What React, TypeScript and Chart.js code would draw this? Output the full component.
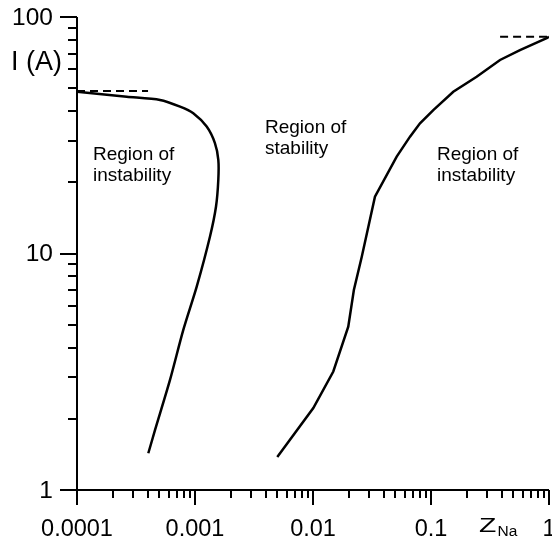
import React, { useEffect, useRef } from "react";
import { Chart, registerables } from "chart.js";

Chart.register(...registerables);

// Left boundary curve (Z_Na, I)
const leftX = [4.02e-4, 4.58e-4, 6.14e-4, 7.96e-4, 1.034e-3, 1.34e-3, 1.507e-3, 1.576e-3, 1.576e-3, 1.475e-3, 1.256e-3, 9.67e-4, 7.47e-4, 5.05e-4, 2.64e-4, 1.0e-4];
const leftY = [1.43, 1.79, 2.92, 4.75, 7.24, 11.8, 15.8, 20.5, 24.9, 29.3, 34.4, 39.2, 41.8, 44.6, 46.0, 48.3];

// Right boundary curve
const rightX = [4.98e-3, 1.006e-2, 1.486e-2, 1.99e-2, 2.22e-2, 2.59e-2, 3.35e-2, 5.12e-2, 6.64e-2, 8.07e-2, 0.1046, 0.1545, 0.2437, 0.3846, 0.5675, 0.955, 1.0];
const rightY = [1.38, 2.22, 3.17, 4.9, 7.01, 9.69, 17.4, 25.7, 31.2, 35.5, 40.4, 48.3, 55.9, 65.8, 72.5, 81.3, 82.5];

// Dashed limits
const leftDashX = [1.0e-4, 4.0e-4];
const leftDashY = [48.7, 48.7];
const rightDashX = [0.385, 1.0];
const rightDashY = [82.5, 82.5];

const xTickValues = [0.0001, 0.001, 0.01, 0.1, 1];
const xTickLabels = ["0.0001", "0.001", "0.01", "0.1", "1"];
const yTickValues = [1, 10, 100];
const yTickLabels = ["1", "10", "100"];

const regionLabels = [
  ["Region of", "instability"],
  ["Region of", "stability"],
  ["Region of", "instability"],
];

const FONT = '"Liberation Sans", Arial, Helvetica, sans-serif';

const zip = (xs: number[], ys: number[]) => xs.map((x, i) => ({ x, y: ys[i] }));

const axesPlugin = {
  id: "customAxes",
  afterDraw(chart: any) {
    const ctx = chart.ctx as CanvasRenderingContext2D;
    const xs = chart.scales.x;
    const ys = chart.scales.y;
    const { left, bottom } = chart.chartArea;
    const xMin = xs.getPixelForValue(1e-4);
    const xMax = xs.getPixelForValue(1);
    const yMin = ys.getPixelForValue(1);
    const yMax = ys.getPixelForValue(100);
    ctx.save();
    ctx.strokeStyle = "#000";
    ctx.fillStyle = "#000";
    ctx.lineWidth = 2;
    ctx.lineCap = "butt";
    // axis lines
    ctx.beginPath();
    ctx.moveTo(left, yMax);
    ctx.lineTo(left, yMin);
    ctx.moveTo(xMin, bottom);
    ctx.lineTo(xMax, bottom);
    ctx.stroke();
    // x ticks
    ctx.beginPath();
    for (let d = 1e-4; d <= 1.0001; d *= 10) {
      const p = Math.round(xs.getPixelForValue(d));
      ctx.moveTo(p, bottom);
      ctx.lineTo(p, bottom + 15);
      if (d < 0.99) {
        for (let m = 2; m <= 9; m++) {
          const q = Math.round(xs.getPixelForValue(d * m));
          ctx.moveTo(q, bottom);
          ctx.lineTo(q, bottom + 8);
        }
      }
    }
    // y ticks
    for (let d = 1; d <= 100.001; d *= 10) {
      const p = Math.round(ys.getPixelForValue(d));
      ctx.moveTo(left, p);
      ctx.lineTo(left - 17, p);
      if (d < 99) {
        for (let m = 2; m <= 9; m++) {
          const q = Math.round(ys.getPixelForValue(d * m));
          ctx.moveTo(left, q);
          ctx.lineTo(left - 9, q);
        }
      }
    }
    ctx.stroke();
    // tick labels
    ctx.font = `23.5px ${FONT}`;
    ctx.textAlign = "center";
    ctx.textBaseline = "alphabetic";
    xTickValues.forEach((v, i) => {
      ctx.fillText(xTickLabels[i], xs.getPixelForValue(v), bottom + 46);
    });
    ctx.font = `24.5px ${FONT}`;
    ctx.textAlign = "right";
    ctx.textBaseline = "middle";
    yTickValues.forEach((v, i) => {
      ctx.fillText(yTickLabels[i], left - 24, ys.getPixelForValue(v) + 1);
    });
    // axis titles
    ctx.textAlign = "left";
    ctx.textBaseline = "alphabetic";
    ctx.font = `27px ${FONT}`;
    ctx.fillText("I (A)", 11, 70);
    ctx.save();
    ctx.translate(479, 532);
    ctx.scale(1.35, 1);
    ctx.font = `21px ${FONT}`;
    ctx.fillText("Z", 0, 0);
    ctx.restore();
    ctx.font = `15.5px ${FONT}`;
    ctx.fillText("Na", 497.5, 536);
    // region labels
    ctx.font = `19px ${FONT}`;
    const pos = [
      [93, 160],
      [265, 133],
      [437, 160],
    ];
    regionLabels.forEach((lines, i) => {
      lines.forEach((t, j) => {
        ctx.fillText(t, pos[i][0], pos[i][1] + j * 21);
      });
    });
    ctx.restore();
  },
};

export default function App() {
  const ref = useRef<HTMLCanvasElement>(null);
  useEffect(() => {
    if (!ref.current) return;
    const lineStyle = {
      showLine: true,
      borderColor: "#000",
      backgroundColor: "#000",
      borderWidth: 2.5,
      pointRadius: 0,
      tension: 0,
      fill: false,
    };
    const chart = new Chart(ref.current, {
      type: "scatter",
      data: {
        datasets: [
          { ...lineStyle, tension: 0.25, data: zip(leftX, leftY) },
          { ...lineStyle, data: zip(rightX, rightY) },
          { ...lineStyle, borderWidth: 2, borderDash: [8, 5], data: zip(leftDashX, leftDashY) },
          { ...lineStyle, borderWidth: 2, borderDash: [8, 5], data: zip(rightDashX, rightDashY) },
        ],
      },
      options: {
        responsive: false,
        animation: false,
        devicePixelRatio: 1,
        layout: { padding: { left: 77, right: 3, top: 17, bottom: 54 } },
        plugins: { legend: { display: false }, tooltip: { enabled: false } },
        scales: {
          x: { type: "logarithmic", min: 1e-4, max: 1, display: false },
          y: { type: "logarithmic", min: 1, max: 100, display: false },
        },
      },
      plugins: [axesPlugin],
    });
    return () => chart.destroy();
  }, []);
  return (
    <div style={{ position: "absolute", left: 0, top: 0, width: 552, height: 544, background: "#fff" }}>
      <canvas ref={ref} width={552} height={544} style={{ display: "block" }} />
    </div>
  );
}
